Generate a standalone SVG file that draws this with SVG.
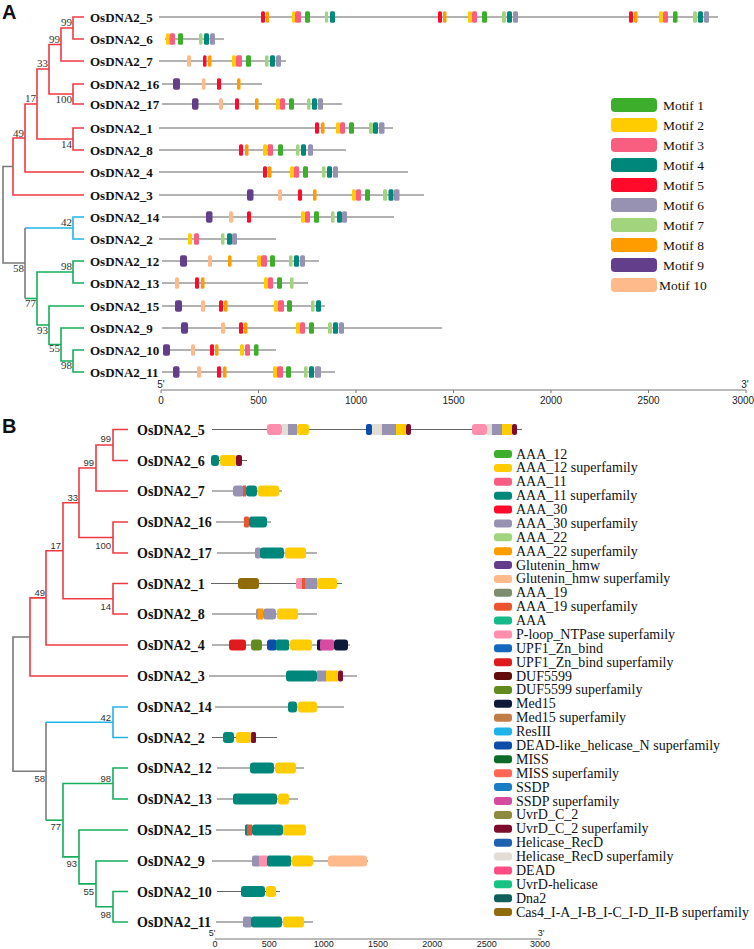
<svg xmlns="http://www.w3.org/2000/svg" width="754" height="949" viewBox="0 0 754 949">
<style>
.bg{fill:#fff}
.pl{font-family:"Liberation Sans",Arial,sans-serif;font-weight:bold;font-size:20px;fill:#111}
.la{font-family:"Liberation Serif","Times New Roman",serif;font-weight:bold;font-size:13px;fill:#111}
.lb{font-family:"Liberation Serif","Times New Roman",serif;font-weight:bold;font-size:14px;fill:#111}
.bsA{font-family:"Liberation Serif","Times New Roman",serif;font-size:11px;fill:#333;text-anchor:end}
.bsB{font-family:"Liberation Sans",Arial,sans-serif;font-size:9.5px;fill:#333;text-anchor:end}
.gl{stroke:#666;stroke-width:1.1}
.ax{stroke:#777;stroke-width:1}
.axt{font-family:"Liberation Sans",Arial,sans-serif;font-size:10px;fill:#222;text-anchor:middle}
.axtB{font-family:"Liberation Sans",Arial,sans-serif;font-size:9px;fill:#222;text-anchor:middle}
.lg{font-family:"Liberation Serif","Times New Roman",serif;font-size:14px;fill:#111}
.lgA{font-family:"Liberation Serif","Times New Roman",serif;font-size:13.5px;fill:#111}
.tr{fill:none;stroke-width:1.6}
.red{stroke:#EF3A43}.blue{stroke:#1FB5E8}.green{stroke:#14AE5C}.gray{stroke:#7a7a7a}
.m1{fill:#3DAE2B}.m2{fill:#FFCC00}.m3{fill:#F95E80}.m4{fill:#00877C}.m5{fill:#FF0A2A}
.m6{fill:#9892B2}.m7{fill:#A2D47E}.m8{fill:#FF9C00}.m9{fill:#633F8B}.m10{fill:#FFBA8C}
.c0{fill:#3DAE2B}.c1{fill:#FFCC00}.c2{fill:#F75C82}.c3{fill:#00877C}.c4{fill:#FF0A2A}.c5{fill:#9892B2}
.c6{fill:#A2D47E}.c7{fill:#FF9C00}.c8{fill:#633F8B}.c9{fill:#FFBA8C}.c10{fill:#7D8C6C}.c11{fill:#EA5530}
.c12{fill:#15BA8A}.c13{fill:#FF8FAD}.c14{fill:#1268BF}.c15{fill:#E01B1E}.c16{fill:#620C0C}.c17{fill:#628A1E}
.c18{fill:#0F1A3A}.c19{fill:#C27C45}.c20{fill:#1DB4EA}.c21{fill:#0E4DA8}.c22{fill:#0E6A28}.c23{fill:#FF6655}
.c24{fill:#1B7DC4}.c25{fill:#D64A9F}.c26{fill:#8E8A3E}.c27{fill:#7D0C2D}.c28{fill:#1E61B1}.c29{fill:#E2DED6}
.c30{fill:#FF4C86}.c31{fill:#16C383}.c32{fill:#0F5F5C}.c33{fill:#8F6B0C}
</style>
<rect class="bg" x="0" y="0" width="754" height="949"/>
<text class="pl" x="2" y="19">A</text>
<text class="pl" x="2" y="433">B</text>

<g id="connectors">
 <g id="treeA-connectors">
  <path class="tr red" d="M84 17H73V39H84"/>
  <path class="tr red" d="M73 28H61V61H84"/>
  <path class="tr red" d="M84 84H73V104H84"/>
  <path class="tr red" d="M61 44.5H49V94H73"/>
  <path class="tr red" d="M84 128H73V150H84"/>
  <path class="tr red" d="M49 69H37V139H73"/>
  <path class="tr red" d="M37 104H25V172H84"/>
  <path class="tr red" d="M25 138H13V195H84"/>
  <path class="tr gray" d="M13 166.5H3V263H25"/>
  <path class="tr gray" d="M25 228V298.5"/>
  <path class="tr blue" d="M25 228H73"/>
  <path class="tr blue" d="M84 217H73V239H84"/>
  <path class="tr green" d="M25 298.5H37"/>
  <path class="tr green" d="M84 261H73V283H84"/>
  <path class="tr green" d="M73 272H37V325H49"/>
  <path class="tr green" d="M84 306H49V344.5H61"/>
  <path class="tr green" d="M84 328H61V361H73"/>
  <path class="tr green" d="M84 350H73V372H84"/>
 </g>
 <g id="treeA-support">
  <text class="bsA" x="72" y="26">99</text>
  <text class="bsA" x="60" y="42.5">99</text>
  <text class="bsA" x="48" y="67">33</text>
  <text class="bsA" x="72" y="103">100</text>
  <text class="bsA" x="36" y="102">17</text>
  <text class="bsA" x="72" y="148">14</text>
  <text class="bsA" x="24" y="136.5">49</text>
  <text class="bsA" x="72" y="226">42</text>
  <text class="bsA" x="24" y="272">58</text>
  <text class="bsA" x="72" y="270">98</text>
  <text class="bsA" x="36" y="307">77</text>
  <text class="bsA" x="48" y="334">93</text>
  <text class="bsA" x="60" y="352">55</text>
  <text class="bsA" x="72" y="369">98</text>
 </g>
 <g id="treeB-connectors">
  <path class="tr red" d="M128 429.5H113V460.5H128"/>
  <path class="tr red" d="M113 445H96V491H128"/>
  <path class="tr red" d="M128 522H113V553H128"/>
  <path class="tr red" d="M96 468H79V537.5H113"/>
  <path class="tr red" d="M128 583.5H113V614H128"/>
  <path class="tr red" d="M79 502.75H63V598.75H113"/>
  <path class="tr red" d="M63 550.75H46V645H128"/>
  <path class="tr red" d="M46 597.9H30V676H128"/>
  <path class="tr gray" d="M30 637H13V771.2H46"/>
  <path class="tr gray" d="M46 722.25V820.2"/>
  <path class="tr blue" d="M46 722.25H113"/>
  <path class="tr blue" d="M128 707H113V737.5H128"/>
  <path class="tr green" d="M46 820.2H63"/>
  <path class="tr green" d="M128 768H113V799H128"/>
  <path class="tr green" d="M113 783.5H63V856.9H79"/>
  <path class="tr green" d="M128 830H79V883.9H96"/>
  <path class="tr green" d="M128 861H96V906.75H113"/>
  <path class="tr green" d="M128 891.5H113V922H128"/>
 </g>
 <g id="treeB-support">
  <text class="bsB" x="111" y="442">99</text>
  <text class="bsB" x="94" y="466">99</text>
  <text class="bsB" x="78" y="501">33</text>
  <text class="bsB" x="111" y="549">100</text>
  <text class="bsB" x="61" y="549">17</text>
  <text class="bsB" x="111" y="610">14</text>
  <text class="bsB" x="45" y="596">49</text>
  <text class="bsB" x="111" y="721">42</text>
  <text class="bsB" x="45" y="782">58</text>
  <text class="bsB" x="111" y="782">98</text>
  <text class="bsB" x="61" y="830">77</text>
  <text class="bsB" x="77" y="867">93</text>
  <text class="bsB" x="94" y="895">55</text>
  <text class="bsB" x="111" y="918">98</text>
 </g>
</g>

<!-- Panel A gene rows -->
<g id="a-OsDNA2_5" transform="translate(0 17)"><text class="la" x="90" y="4.5">OsDNA2_5</text><line class="gl" x1="159" x2="718"/>
<rect class="m5" x="261" y="-5.8" width="4" height="11.6" rx="1.5"/><rect class="m8" x="266" y="-5.8" width="3" height="11.6" rx="1.5"/><rect class="m2" x="292" y="-5.8" width="3.5" height="11.6" rx="1.5"/><rect class="m3" x="295" y="-5.8" width="6" height="11.6" rx="1.5"/><rect class="m1" x="305" y="-5.8" width="5" height="11.6" rx="1.5"/><rect class="m7" x="325" y="-5.8" width="3" height="11.6" rx="1.5"/><rect class="m4" x="330" y="-5.8" width="5" height="11.6" rx="1.5"/>
<rect class="m5" x="438" y="-5.8" width="4" height="11.6" rx="1.5"/><rect class="m8" x="443" y="-5.8" width="3.5" height="11.6" rx="1.5"/><rect class="m2" x="468" y="-5.8" width="4" height="11.6" rx="1.5"/><rect class="m3" x="472" y="-5.8" width="5" height="11.6" rx="1.5"/><rect class="m1" x="482" y="-5.8" width="5" height="11.6" rx="1.5"/><rect class="m7" x="502" y="-5.8" width="4" height="11.6" rx="1.5"/><rect class="m4" x="507" y="-5.8" width="5" height="11.6" rx="1.5"/><rect class="m6" x="513" y="-5.8" width="5" height="11.6" rx="1.5"/>
<rect class="m5" x="629" y="-5.8" width="4" height="11.6" rx="1.5"/><rect class="m8" x="634" y="-5.8" width="3.5" height="11.6" rx="1.5"/><rect class="m2" x="659" y="-5.8" width="4" height="11.6" rx="1.5"/><rect class="m3" x="663" y="-5.8" width="5" height="11.6" rx="1.5"/><rect class="m1" x="673" y="-5.8" width="4.5" height="11.6" rx="1.5"/><rect class="m7" x="693" y="-5.8" width="4" height="11.6" rx="1.5"/><rect class="m4" x="698" y="-5.8" width="5" height="11.6" rx="1.5"/><rect class="m6" x="704" y="-5.8" width="5" height="11.6" rx="1.5"/></g>

<g id="a-OsDNA2_6" transform="translate(0 39)"><text class="la" x="90" y="4.5">OsDNA2_6</text><line class="gl" x1="165" x2="224"/>
<rect class="m2" x="166" y="-5.8" width="3.5" height="11.6" rx="1.5"/><rect class="m3" x="169.5" y="-5.8" width="5.5" height="11.6" rx="1.5"/><rect class="m1" x="178" y="-5.8" width="5" height="11.6" rx="1.5"/><rect class="m7" x="199" y="-5.8" width="3.5" height="11.6" rx="1.5"/><rect class="m4" x="204" y="-5.8" width="5" height="11.6" rx="1.5"/><rect class="m6" x="210" y="-5.8" width="5" height="11.6" rx="1.5"/></g>

<g id="a-OsDNA2_7" transform="translate(0 61)"><text class="la" x="90" y="4.5">OsDNA2_7</text><line class="gl" x1="159" x2="286"/>
<rect class="m10" x="187" y="-5.8" width="4" height="11.6" rx="1.5"/><rect class="m5" x="203" y="-5.8" width="3.5" height="11.6" rx="1.5"/><rect class="m8" x="208" y="-5.8" width="3.5" height="11.6" rx="1.5"/><rect class="m2" x="232" y="-5.8" width="4" height="11.6" rx="1.5"/><rect class="m3" x="236" y="-5.8" width="6" height="11.6" rx="1.5"/><rect class="m1" x="246" y="-5.8" width="5" height="11.6" rx="1.5"/><rect class="m7" x="265" y="-5.8" width="3.5" height="11.6" rx="1.5"/><rect class="m4" x="270" y="-5.8" width="5" height="11.6" rx="1.5"/><rect class="m6" x="276" y="-5.8" width="5" height="11.6" rx="1.5"/></g>

<g id="a-OsDNA2_16" transform="translate(0 84)"><text class="la" x="90" y="4.5">OsDNA2_16</text><line class="gl" x1="162" x2="262"/>
<rect class="m9" x="173" y="-5.8" width="7" height="11.6" rx="2"/><rect class="m10" x="202" y="-5.8" width="3.5" height="11.6" rx="1.5"/><rect class="m5" x="217" y="-5.8" width="4" height="11.6" rx="1.5"/><rect class="m8" x="237" y="-5.8" width="3.5" height="11.6" rx="1.5"/></g>

<g id="a-OsDNA2_17" transform="translate(0 104)"><text class="la" x="90" y="4.5">OsDNA2_17</text><line class="gl" x1="162" x2="342"/>
<rect class="m9" x="192" y="-5.8" width="6.5" height="11.6" rx="2"/><rect class="m10" x="219" y="-5.8" width="4" height="11.6" rx="1.5"/><rect class="m5" x="235" y="-5.8" width="4" height="11.6" rx="1.5"/><rect class="m8" x="255" y="-5.8" width="3.5" height="11.6" rx="1.5"/><rect class="m2" x="276" y="-5.8" width="4" height="11.6" rx="1.5"/><rect class="m3" x="280" y="-5.8" width="5" height="11.6" rx="1.5"/><rect class="m1" x="289" y="-5.8" width="5" height="11.6" rx="1.5"/><rect class="m7" x="307" y="-5.8" width="3.5" height="11.6" rx="1.5"/><rect class="m4" x="312" y="-5.8" width="5" height="11.6" rx="1.5"/><rect class="m6" x="318" y="-5.8" width="5" height="11.6" rx="1.5"/></g>

<g id="a-OsDNA2_1" transform="translate(0 128)"><text class="la" x="90" y="4.5">OsDNA2_1</text><line class="gl" x1="159" x2="393"/>
<rect class="m5" x="315" y="-5.8" width="4" height="11.6" rx="1.5"/><rect class="m8" x="321" y="-5.8" width="3.5" height="11.6" rx="1.5"/><rect class="m2" x="336" y="-5.8" width="4" height="11.6" rx="1.5"/><rect class="m3" x="340" y="-5.8" width="5" height="11.6" rx="1.5"/><rect class="m1" x="349" y="-5.8" width="5" height="11.6" rx="1.5"/><rect class="m7" x="369" y="-5.8" width="4" height="11.6" rx="1.5"/><rect class="m4" x="373" y="-5.8" width="5" height="11.6" rx="1.5"/><rect class="m6" x="379" y="-5.8" width="5.5" height="11.6" rx="1.5"/></g>

<g id="a-OsDNA2_8" transform="translate(0 150)"><text class="la" x="90" y="4.5">OsDNA2_8</text><line class="gl" x1="159" x2="346"/>
<rect class="m5" x="239" y="-5.8" width="4" height="11.6" rx="1.5"/><rect class="m8" x="245" y="-5.8" width="3.5" height="11.6" rx="1.5"/><rect class="m2" x="263" y="-5.8" width="4" height="11.6" rx="1.5"/><rect class="m3" x="267.5" y="-5.8" width="5.5" height="11.6" rx="1.5"/><rect class="m1" x="278" y="-5.8" width="5" height="11.6" rx="1.5"/><rect class="m7" x="296" y="-5.8" width="3.5" height="11.6" rx="1.5"/><rect class="m4" x="301" y="-5.8" width="5" height="11.6" rx="1.5"/><rect class="m6" x="308" y="-5.8" width="5" height="11.6" rx="1.5"/></g>

<g id="a-OsDNA2_4" transform="translate(0 172)"><text class="la" x="90" y="4.5">OsDNA2_4</text><line class="gl" x1="159" x2="408"/>
<rect class="m5" x="263" y="-5.8" width="4" height="11.6" rx="1.5"/><rect class="m8" x="268" y="-5.8" width="3.5" height="11.6" rx="1.5"/><rect class="m2" x="290" y="-5.8" width="4" height="11.6" rx="1.5"/><rect class="m3" x="294" y="-5.8" width="5" height="11.6" rx="1.5"/><rect class="m1" x="303" y="-5.8" width="5" height="11.6" rx="1.5"/><rect class="m7" x="322" y="-5.8" width="3.5" height="11.6" rx="1.5"/><rect class="m4" x="327" y="-5.8" width="5" height="11.6" rx="1.5"/><rect class="m6" x="333" y="-5.8" width="5" height="11.6" rx="1.5"/></g>

<g id="a-OsDNA2_3" transform="translate(0 195)"><text class="la" x="90" y="4.5">OsDNA2_3</text><line class="gl" x1="159" x2="424"/>
<rect class="m9" x="247" y="-5.8" width="6.5" height="11.6" rx="2"/><rect class="m10" x="278" y="-5.8" width="4" height="11.6" rx="1.5"/><rect class="m5" x="298" y="-5.8" width="4" height="11.6" rx="1.5"/><rect class="m8" x="313" y="-5.8" width="3.5" height="11.6" rx="1.5"/><rect class="m2" x="352" y="-5.8" width="4" height="11.6" rx="1.5"/><rect class="m3" x="356" y="-5.8" width="5" height="11.6" rx="1.5"/><rect class="m1" x="365" y="-5.8" width="5" height="11.6" rx="1.5"/><rect class="m7" x="383" y="-5.8" width="4" height="11.6" rx="1.5"/><rect class="m4" x="388.5" y="-5.8" width="5" height="11.6" rx="1.5"/><rect class="m6" x="394" y="-5.8" width="5.5" height="11.6" rx="1.5"/></g>

<g id="a-OsDNA2_14" transform="translate(0 217)"><text class="la" x="90" y="4.5">OsDNA2_14</text><line class="gl" x1="162" x2="394"/>
<rect class="m9" x="206" y="-5.8" width="6.5" height="11.6" rx="2"/><rect class="m10" x="229" y="-5.8" width="4" height="11.6" rx="1.5"/><rect class="m5" x="247" y="-5.8" width="4" height="11.6" rx="1.5"/><rect class="m2" x="301" y="-5.8" width="4" height="11.6" rx="1.5"/><rect class="m3" x="305" y="-5.8" width="5" height="11.6" rx="1.5"/><rect class="m1" x="314" y="-5.8" width="5" height="11.6" rx="1.5"/><rect class="m7" x="331" y="-5.8" width="3.5" height="11.6" rx="1.5"/><rect class="m4" x="337" y="-5.8" width="5" height="11.6" rx="1.5"/><rect class="m6" x="342" y="-5.8" width="5" height="11.6" rx="1.5"/></g>

<g id="a-OsDNA2_2" transform="translate(0 239)"><text class="la" x="90" y="4.5">OsDNA2_2</text><line class="gl" x1="159" x2="276"/>
<rect class="m2" x="188" y="-5.8" width="4" height="11.6" rx="1.5"/><rect class="m3" x="194" y="-5.8" width="5" height="11.6" rx="1.5"/><rect class="m7" x="221" y="-5.8" width="3.5" height="11.6" rx="1.5"/><rect class="m4" x="227" y="-5.8" width="5" height="11.6" rx="1.5"/><rect class="m6" x="232" y="-5.8" width="5" height="11.6" rx="1.5"/></g>

<g id="a-OsDNA2_12" transform="translate(0 261)"><text class="la" x="90" y="4.5">OsDNA2_12</text><line class="gl" x1="162" x2="319"/>
<rect class="m9" x="180" y="-5.8" width="7" height="11.6" rx="2"/><rect class="m10" x="208" y="-5.8" width="4" height="11.6" rx="1.5"/><rect class="m8" x="228" y="-5.8" width="3.5" height="11.6" rx="1.5"/><rect class="m2" x="257" y="-5.8" width="4" height="11.6" rx="1.5"/><rect class="m3" x="261" y="-5.8" width="6" height="11.6" rx="1.5"/><rect class="m1" x="270" y="-5.8" width="5" height="11.6" rx="1.5"/><rect class="m7" x="289" y="-5.8" width="3.5" height="11.6" rx="1.5"/><rect class="m4" x="294" y="-5.8" width="5" height="11.6" rx="1.5"/><rect class="m6" x="300" y="-5.8" width="5" height="11.6" rx="1.5"/></g>

<g id="a-OsDNA2_13" transform="translate(0 283)"><text class="la" x="90" y="4.5">OsDNA2_13</text><line class="gl" x1="162" x2="308"/>
<rect class="m10" x="175" y="-5.8" width="4" height="11.6" rx="1.5"/><rect class="m5" x="195" y="-5.8" width="4" height="11.6" rx="1.5"/><rect class="m8" x="201" y="-5.8" width="3.5" height="11.6" rx="1.5"/><rect class="m2" x="264" y="-5.8" width="4" height="11.6" rx="1.5"/><rect class="m3" x="268" y="-5.8" width="5" height="11.6" rx="1.5"/><rect class="m1" x="277" y="-5.8" width="5" height="11.6" rx="1.5"/><rect class="m7" x="290" y="-5.8" width="3.5" height="11.6" rx="1.5"/></g>

<g id="a-OsDNA2_15" transform="translate(0 306)"><text class="la" x="90" y="4.5">OsDNA2_15</text><line class="gl" x1="162" x2="325"/>
<rect class="m9" x="175" y="-5.8" width="7" height="11.6" rx="2"/><rect class="m10" x="201" y="-5.8" width="4" height="11.6" rx="1.5"/><rect class="m5" x="219" y="-5.8" width="4" height="11.6" rx="1.5"/><rect class="m8" x="224" y="-5.8" width="3.5" height="11.6" rx="1.5"/><rect class="m2" x="274" y="-5.8" width="4" height="11.6" rx="1.5"/><rect class="m3" x="278" y="-5.8" width="6" height="11.6" rx="1.5"/><rect class="m1" x="287" y="-5.8" width="5" height="11.6" rx="1.5"/><rect class="m7" x="311" y="-5.8" width="3.5" height="11.6" rx="1.5"/><rect class="m4" x="316" y="-5.8" width="5" height="11.6" rx="1.5"/></g>

<g id="a-OsDNA2_9" transform="translate(0 328)"><text class="la" x="90" y="4.5">OsDNA2_9</text><line class="gl" x1="162" x2="442"/>
<rect class="m9" x="181" y="-5.8" width="7" height="11.6" rx="2"/><rect class="m10" x="221" y="-5.8" width="4" height="11.6" rx="1.5"/><rect class="m5" x="239" y="-5.8" width="4" height="11.6" rx="1.5"/><rect class="m8" x="244" y="-5.8" width="3.5" height="11.6" rx="1.5"/><rect class="m2" x="296" y="-5.8" width="4" height="11.6" rx="1.5"/><rect class="m3" x="300" y="-5.8" width="5" height="11.6" rx="1.5"/><rect class="m1" x="309" y="-5.8" width="5" height="11.6" rx="1.5"/><rect class="m7" x="328" y="-5.8" width="4" height="11.6" rx="1.5"/><rect class="m4" x="333" y="-5.8" width="5" height="11.6" rx="1.5"/><rect class="m6" x="339" y="-5.8" width="5" height="11.6" rx="1.5"/></g>

<g id="a-OsDNA2_10" transform="translate(0 350)"><text class="la" x="90" y="4.5">OsDNA2_10</text><line class="gl" x1="163" x2="276"/>
<rect class="m9" x="163" y="-5.8" width="7" height="11.6" rx="2"/><rect class="m10" x="191" y="-5.8" width="4" height="11.6" rx="1.5"/><rect class="m5" x="210" y="-5.8" width="4" height="11.6" rx="1.5"/><rect class="m8" x="215" y="-5.8" width="3.5" height="11.6" rx="1.5"/><rect class="m2" x="240" y="-5.8" width="4" height="11.6" rx="1.5"/><rect class="m3" x="245" y="-5.8" width="5" height="11.6" rx="1.5"/><rect class="m1" x="254" y="-5.8" width="4.5" height="11.6" rx="1.5"/></g>

<g id="a-OsDNA2_11" transform="translate(0 372)"><text class="la" x="90" y="4.5">OsDNA2_11</text><line class="gl" x1="162" x2="335"/>
<rect class="m9" x="173" y="-5.8" width="6.5" height="11.6" rx="2"/><rect class="m10" x="197" y="-5.8" width="4" height="11.6" rx="1.5"/><rect class="m5" x="217" y="-5.8" width="4" height="11.6" rx="1.5"/><rect class="m8" x="223" y="-5.8" width="3.5" height="11.6" rx="1.5"/><rect class="m2" x="273" y="-5.8" width="4" height="11.6" rx="1.5"/><rect class="m3" x="277" y="-5.8" width="6" height="11.6" rx="1.5"/><rect class="m1" x="286" y="-5.8" width="5" height="11.6" rx="1.5"/><rect class="m7" x="304" y="-5.8" width="3.5" height="11.6" rx="1.5"/><rect class="m4" x="309" y="-5.8" width="5" height="11.6" rx="1.5"/><rect class="m6" x="315" y="-5.8" width="6" height="11.6" rx="1.5"/></g>

<g id="a-axis">
 <line class="ax" x1="161" y1="390" x2="746" y2="390"/>
 <path class="ax" fill="none" d="M161 390v3M258.5 390v3M356 390v3M453.5 390v3M551 390v3M648.5 390v3M746 390v3"/>
 <text class="axt" x="161" y="404">0</text><text class="axt" x="258.5" y="404">500</text><text class="axt" x="356" y="404">1000</text><text class="axt" x="453.5" y="404">1500</text><text class="axt" x="551" y="404">2000</text><text class="axt" x="648.5" y="404">2500</text><text class="axt" x="743" y="404">3000</text>
 <text class="axt" x="161" y="388">5'</text><text class="axt" x="745" y="388">3'</text>
</g>

<g id="a-legend">
 <rect class="m1" x="611" y="98" width="46" height="14" rx="4"/><text class="lgA" x="663" y="109.5">Motif 1</text>
 <rect class="m2" x="611" y="118" width="46" height="14" rx="4"/><text class="lgA" x="663" y="129.5">Motif 2</text>
 <rect class="m3" x="611" y="138" width="46" height="14" rx="4"/><text class="lgA" x="663" y="149.5">Motif 3</text>
 <rect class="m4" x="611" y="158" width="46" height="14" rx="4"/><text class="lgA" x="663" y="169.5">Motif 4</text>
 <rect class="m5" x="611" y="178" width="46" height="14" rx="4"/><text class="lgA" x="663" y="189.5">Motif 5</text>
 <rect class="m6" x="611" y="198" width="46" height="14" rx="4"/><text class="lgA" x="663" y="209.5">Motif 6</text>
 <rect class="m7" x="611" y="218" width="46" height="14" rx="4"/><text class="lgA" x="663" y="229.5">Motif 7</text>
 <rect class="m8" x="611" y="238" width="46" height="14" rx="4"/><text class="lgA" x="663" y="249.5">Motif 8</text>
 <rect class="m9" x="611" y="258" width="46" height="14" rx="4"/><text class="lgA" x="663" y="269.5">Motif 9</text>
 <rect class="m10" x="611" y="278" width="46" height="14" rx="4"/><text class="lgA" x="659" y="289.5">Motif 10</text>
</g>

<!-- Panel B gene rows -->
<g id="b-OsDNA2_5" transform="translate(0 429.5)"><text class="lb" x="137" y="5">OsDNA2_5</text><line class="gl" x1="212" x2="522"/>
<rect class="c13" x="267" y="-5.5" width="15" height="11" rx="3"/><rect class="c29" x="282" y="-5.5" width="6" height="11"/><rect class="c5" x="288" y="-5.5" width="9" height="11"/><rect class="c1" x="297" y="-5.5" width="12" height="11" rx="3"/>
<rect class="c21" x="366" y="-5.5" width="6" height="11" rx="2"/><rect class="c29" x="372" y="-5.5" width="10" height="11"/><rect class="c5" x="382" y="-5.5" width="14" height="11"/><rect class="c1" x="396" y="-5.5" width="10" height="11"/><rect class="c27" x="406" y="-5.5" width="5" height="11" rx="2"/>
<rect class="c13" x="472" y="-5.5" width="15" height="11" rx="3"/><rect class="c29" x="487" y="-5.5" width="5" height="11"/><rect class="c5" x="492" y="-5.5" width="10" height="11"/><rect class="c1" x="502" y="-5.5" width="10" height="11"/><rect class="c27" x="512" y="-5.5" width="5" height="11" rx="2"/></g>

<g id="b-OsDNA2_6" transform="translate(0 460.5)"><text class="lb" x="137" y="5">OsDNA2_6</text><line class="gl" x1="211" x2="247"/>
<rect class="c3" x="211" y="-5.5" width="8" height="11" rx="3"/><rect class="c1" x="220" y="-5.5" width="16" height="11" rx="3"/><rect class="c27" x="236" y="-5.5" width="6" height="11" rx="2"/></g>

<g id="b-OsDNA2_7" transform="translate(0 491)"><text class="lb" x="137" y="5">OsDNA2_7</text><line class="gl" x1="212" x2="282"/>
<rect class="c5" x="233" y="-5.5" width="11" height="11" rx="3"/><rect class="c11" x="243" y="-5.5" width="3" height="11"/><rect class="c3" x="246" y="-5.5" width="11" height="11" rx="3"/><rect class="c1" x="258" y="-5.5" width="21" height="11" rx="3"/></g>

<g id="b-OsDNA2_16" transform="translate(0 522)"><text class="lb" x="137" y="5">OsDNA2_16</text><line class="gl" x1="216" x2="271"/>
<rect class="c11" x="244" y="-5.5" width="5" height="11" rx="1.5"/><rect class="c3" x="249" y="-5.5" width="18" height="11" rx="3"/></g>

<g id="b-OsDNA2_17" transform="translate(0 553)"><text class="lb" x="137" y="5">OsDNA2_17</text><line class="gl" x1="217" x2="317"/>
<rect class="c5" x="255" y="-5.5" width="6" height="11" rx="2"/><rect class="c3" x="260" y="-5.5" width="24" height="11" rx="3"/><rect class="c1" x="285" y="-5.5" width="21" height="11" rx="3"/></g>

<g id="b-OsDNA2_1" transform="translate(0 583.5)"><text class="lb" x="137" y="5">OsDNA2_1</text><line class="gl" x1="211" x2="342"/>
<rect class="c33" x="238" y="-5.5" width="21" height="11" rx="3"/><rect class="c13" x="296" y="-5.5" width="7" height="11" rx="2"/><rect class="c11" x="302" y="-5.5" width="3" height="11"/><rect class="c5" x="305" y="-5.5" width="12" height="11"/><rect class="c1" x="317" y="-5.5" width="20" height="11" rx="3"/></g>

<g id="b-OsDNA2_8" transform="translate(0 614)"><text class="lb" x="137" y="5">OsDNA2_8</text><line class="gl" x1="212" x2="317"/>
<rect class="c5" x="256" y="-5.5" width="4" height="11" rx="2"/><rect class="c7" x="258" y="-5.5" width="5" height="11"/><rect class="c5" x="263" y="-5.5" width="13" height="11" rx="3"/><rect class="c1" x="277" y="-5.5" width="21" height="11" rx="3"/></g>

<g id="b-OsDNA2_4" transform="translate(0 645)"><text class="lb" x="137" y="5">OsDNA2_4</text><line class="gl" x1="212" x2="350"/>
<rect class="c15" x="229" y="-5.5" width="17" height="11" rx="3"/><rect class="c17" x="251" y="-5.5" width="11" height="11" rx="3"/><rect class="c21" x="267" y="-5.5" width="10" height="11" rx="3"/><rect class="c3" x="276" y="-5.5" width="13" height="11" rx="2"/><rect class="c1" x="290" y="-5.5" width="22" height="11" rx="3"/><rect class="c18" x="317" y="-5.5" width="6" height="11" rx="2"/><rect class="c25" x="320" y="-5.5" width="14" height="11" rx="2"/><rect class="c18" x="334" y="-5.5" width="14" height="11" rx="3"/></g>

<g id="b-OsDNA2_3" transform="translate(0 676)"><text class="lb" x="137" y="5">OsDNA2_3</text><line class="gl" x1="209" x2="357"/>
<rect class="c3" x="286" y="-5.5" width="31" height="11" rx="3"/><rect class="c5" x="317" y="-5.5" width="9" height="11"/><rect class="c1" x="326" y="-5.5" width="12" height="11"/><rect class="c27" x="338" y="-5.5" width="5" height="11" rx="2"/></g>

<g id="b-OsDNA2_14" transform="translate(0 707)"><text class="lb" x="137" y="5">OsDNA2_14</text><line class="gl" x1="215" x2="344"/>
<rect class="c3" x="288" y="-5.5" width="9" height="11" rx="3"/><rect class="c1" x="298" y="-5.5" width="19" height="11" rx="3"/></g>

<g id="b-OsDNA2_2" transform="translate(0 737.5)"><text class="lb" x="137" y="5">OsDNA2_2</text><line class="gl" x1="212" x2="277"/>
<rect class="c3" x="223" y="-5.5" width="11" height="11" rx="3"/><rect class="c1" x="236" y="-5.5" width="15" height="11" rx="3"/><rect class="c27" x="251" y="-5.5" width="5" height="11" rx="1.5"/></g>

<g id="b-OsDNA2_12" transform="translate(0 768)"><text class="lb" x="137" y="5">OsDNA2_12</text><line class="gl" x1="217" x2="304"/>
<rect class="c3" x="250" y="-5.5" width="24" height="11" rx="3"/><rect class="c1" x="275" y="-5.5" width="21" height="11" rx="3"/></g>

<g id="b-OsDNA2_13" transform="translate(0 799)"><text class="lb" x="137" y="5">OsDNA2_13</text><line class="gl" x1="217" x2="298"/>
<rect class="c3" x="233" y="-5.5" width="44" height="11" rx="3"/><rect class="c1" x="278" y="-5.5" width="11" height="11" rx="3"/></g>

<g id="b-OsDNA2_15" transform="translate(0 830)"><text class="lb" x="137" y="5">OsDNA2_15</text><line class="gl" x1="216" x2="306"/>
<rect class="c3" x="245" y="-5.5" width="4" height="11" rx="1.5"/><rect class="c11" x="247" y="-5.5" width="5" height="11"/><rect class="c3" x="252" y="-5.5" width="31" height="11" rx="3"/><rect class="c1" x="283" y="-5.5" width="23" height="11" rx="3"/></g>

<g id="b-OsDNA2_9" transform="translate(0 861)"><text class="lb" x="137" y="5">OsDNA2_9</text><line class="gl" x1="212" x2="368"/>
<rect class="c5" x="252" y="-5.5" width="8" height="11" rx="2"/><rect class="c13" x="259" y="-5.5" width="8" height="11"/><rect class="c3" x="267" y="-5.5" width="24" height="11" rx="2"/><rect class="c1" x="292" y="-5.5" width="21" height="11" rx="3"/><rect class="c9" x="328" y="-5.5" width="39" height="11" rx="3"/></g>

<g id="b-OsDNA2_10" transform="translate(0 891.5)"><text class="lb" x="137" y="5">OsDNA2_10</text><line class="gl" x1="217" x2="280"/>
<rect class="c3" x="241" y="-5.5" width="24" height="11" rx="3"/><rect class="c1" x="266" y="-5.5" width="10" height="11" rx="3"/></g>

<g id="b-OsDNA2_11" transform="translate(0 922)"><text class="lb" x="137" y="5">OsDNA2_11</text><line class="gl" x1="216" x2="313"/>
<rect class="c5" x="243" y="-5.5" width="9" height="11" rx="2"/><rect class="c3" x="251" y="-5.5" width="31" height="11" rx="3"/><rect class="c1" x="283" y="-5.5" width="21" height="11" rx="3"/></g>

<g id="b-axis">
 <line class="ax" x1="215" y1="939" x2="541" y2="939"/>
 <text class="axtB" x="215" y="947">0</text><text class="axtB" x="269.3" y="947">500</text><text class="axtB" x="323.7" y="947">1000</text><text class="axtB" x="378" y="947">1500</text><text class="axtB" x="432.3" y="947">2000</text><text class="axtB" x="486.7" y="947">2500</text><text class="axtB" x="540" y="947">3000</text>
 <text class="axtB" x="212" y="936">5'</text><text class="axtB" x="541" y="936">3'</text>
</g>

<g id="b-legend">
 <rect class="c0" x="494" y="450" width="18" height="8" rx="3"/><text class="lg" x="516" y="458.5">AAA_12</text>
 <rect class="c1" x="494" y="463.88" width="18" height="8" rx="3"/><text class="lg" x="516" y="472.38">AAA_12 superfamily</text>
 <rect class="c2" x="494" y="477.76" width="18" height="8" rx="3"/><text class="lg" x="516" y="486.26">AAA_11</text>
 <rect class="c3" x="494" y="491.64" width="18" height="8" rx="3"/><text class="lg" x="516" y="500.14">AAA_11 superfamily</text>
 <rect class="c4" x="494" y="505.52" width="18" height="8" rx="3"/><text class="lg" x="516" y="514.02">AAA_30</text>
 <rect class="c5" x="494" y="519.4" width="18" height="8" rx="3"/><text class="lg" x="516" y="527.9">AAA_30 superfamily</text>
 <rect class="c6" x="494" y="533.28" width="18" height="8" rx="3"/><text class="lg" x="516" y="541.78">AAA_22</text>
 <rect class="c7" x="494" y="547.16" width="18" height="8" rx="3"/><text class="lg" x="516" y="555.66">AAA_22 superfamily</text>
 <rect class="c8" x="494" y="561.04" width="18" height="8" rx="3"/><text class="lg" x="516" y="569.54">Glutenin_hmw</text>
 <rect class="c9" x="494" y="574.92" width="18" height="8" rx="3"/><text class="lg" x="516" y="583.42">Glutenin_hmw superfamily</text>
 <rect class="c10" x="494" y="588.8" width="18" height="8" rx="3"/><text class="lg" x="516" y="597.3">AAA_19</text>
 <rect class="c11" x="494" y="602.68" width="18" height="8" rx="3"/><text class="lg" x="516" y="611.18">AAA_19 superfamily</text>
 <rect class="c12" x="494" y="616.56" width="18" height="8" rx="3"/><text class="lg" x="516" y="625.06">AAA</text>
 <rect class="c13" x="494" y="630.44" width="18" height="8" rx="3"/><text class="lg" x="516" y="638.94">P-loop_NTPase superfamily</text>
 <rect class="c14" x="494" y="644.32" width="18" height="8" rx="3"/><text class="lg" x="516" y="652.82">UPF1_Zn_bind</text>
 <rect class="c15" x="494" y="658.2" width="18" height="8" rx="3"/><text class="lg" x="516" y="666.7">UPF1_Zn_bind superfamily</text>
 <rect class="c16" x="494" y="672.08" width="18" height="8" rx="3"/><text class="lg" x="516" y="680.58">DUF5599</text>
 <rect class="c17" x="494" y="685.96" width="18" height="8" rx="3"/><text class="lg" x="516" y="694.46">DUF5599 superfamily</text>
 <rect class="c18" x="494" y="699.84" width="18" height="8" rx="3"/><text class="lg" x="516" y="708.34">Med15</text>
 <rect class="c19" x="494" y="713.72" width="18" height="8" rx="3"/><text class="lg" x="516" y="722.22">Med15 superfamily</text>
 <rect class="c20" x="494" y="727.6" width="18" height="8" rx="3"/><text class="lg" x="516" y="736.1">ResIII</text>
 <rect class="c21" x="494" y="741.48" width="18" height="8" rx="3"/><text class="lg" x="516" y="749.98">DEAD-like_helicase_N superfamily</text>
 <rect class="c22" x="494" y="755.36" width="18" height="8" rx="3"/><text class="lg" x="516" y="763.86">MISS</text>
 <rect class="c23" x="494" y="769.24" width="18" height="8" rx="3"/><text class="lg" x="516" y="777.74">MISS superfamily</text>
 <rect class="c24" x="494" y="783.12" width="18" height="8" rx="3"/><text class="lg" x="516" y="791.62">SSDP</text>
 <rect class="c25" x="494" y="797" width="18" height="8" rx="3"/><text class="lg" x="516" y="805.5">SSDP superfamily</text>
 <rect class="c26" x="494" y="810.88" width="18" height="8" rx="3"/><text class="lg" x="516" y="819.38">UvrD_C_2</text>
 <rect class="c27" x="494" y="824.76" width="18" height="8" rx="3"/><text class="lg" x="516" y="833.26">UvrD_C_2 superfamily</text>
 <rect class="c28" x="494" y="838.64" width="18" height="8" rx="3"/><text class="lg" x="516" y="847.14">Helicase_RecD</text>
 <rect class="c29" x="494" y="852.52" width="18" height="8" rx="3"/><text class="lg" x="516" y="861.02">Helicase_RecD superfamily</text>
 <rect class="c30" x="494" y="866.4" width="18" height="8" rx="3"/><text class="lg" x="516" y="874.9">DEAD</text>
 <rect class="c31" x="494" y="880.28" width="18" height="8" rx="3"/><text class="lg" x="516" y="888.78">UvrD-helicase</text>
 <rect class="c32" x="494" y="894.16" width="18" height="8" rx="3"/><text class="lg" x="516" y="902.66">Dna2</text>
 <rect class="c33" x="494" y="908.04" width="18" height="8" rx="3"/><text class="lg" x="516" y="916.54">Cas4_I-A_I-B_I-C_I-D_II-B superfamily</text>
</g>
</svg>
